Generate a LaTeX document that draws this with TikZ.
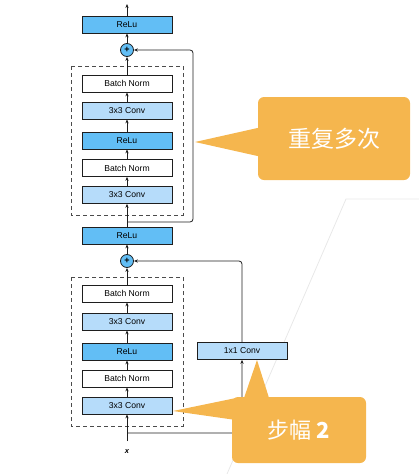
\documentclass[tikz,border=0pt]{standalone}
\usepackage{fontspec}
\setmainfont{Liberation Sans}
\newfontfamily\cjk{Noto Sans CJK SC}
\usetikzlibrary{arrows.meta}
\definecolor{reluc}{RGB}{98,190,245}
\definecolor{convc}{RGB}{182,220,250}
\definecolor{calloutc}{RGB}{245,182,78}
\definecolor{linec}{RGB}{30,30,30}
\definecolor{faintc}{RGB}{232,232,232}
\tikzset{
  blk/.style={draw=linec, line width=0.7pt, minimum width=90pt, minimum height=17pt, inner sep=0pt, font=\fontsize{8.6}{9}\selectfont, anchor=center},
  relubox/.style={blk, fill=reluc},
  convbox/.style={blk, fill=convc},
  bnbox/.style={blk, fill=white},
  plusnode/.style={circle, draw=linec, line width=0.8pt, fill=reluc, minimum size=13pt, inner sep=0pt, font=\fontsize{9}{9}\selectfont\bfseries},
  grp/.style={draw=linec!80, dashed, dash pattern=on 4pt off 3pt, line width=0.9pt},
  conn/.style={draw=linec, line width=0.8pt, -{Stealth[length=4pt,width=3.2pt]}},
  plain/.style={draw=linec, line width=0.8pt},
  callout/.style={fill=calloutc, draw=none},
  calltext/.style={text=white, font=\cjk\fontsize{23}{26}\selectfont}
}
\begin{document}
\begin{tikzpicture}[x=1pt,y=-1pt]
\useasboundingbox (0,0) rectangle (419,474);
% faint background lines
\draw[faintc, line width=0.8pt] (419,199) -- (346,199) -- (227,474);

% dashed groups
\draw[grp] (71,66) rectangle (183,215);
\draw[grp] (71,277) rectangle (183,426);

% upper block
\node[relubox] (relu3) at (127,24.5) {ReLu};
\coordinate (top) at (127,4);
\node[plusnode] (plus2) at (127,50) {+};
\node[bnbox] (bn4) at (127,83.5) {Batch Norm};
\node[convbox] (conv4) at (127,110.5) {3x3 Conv};
\node[relubox] (relu2b) at (127,140.5) {ReLu};
\node[bnbox] (bn3) at (127,168) {Batch Norm};
\node[convbox] (conv3) at (127,195) {3x3 Conv};

% middle relu
\node[relubox] (relu2) at (127,235.5) {ReLu};

% lower block
\node[plusnode] (plus1) at (127,261) {+};
\node[bnbox] (bn2) at (127,293.5) {Batch Norm};
\node[convbox] (conv2) at (127,321.5) {3x3 Conv};
\node[relubox] (relu1) at (127,351.5) {ReLu};
\node[bnbox] (bn1) at (127,378.5) {Batch Norm};
\node[convbox] (conv1) at (127,405.5) {3x3 Conv};
\node[convbox] (conv11) at (242,351) {1x1 Conv};
\node[font=\fontsize{7.5}{8}\selectfont\bfseries\itshape] (x) at (127,452) {x};
\coordinate (xs) at (127,441);
\coordinate (split1) at (127,433);
\coordinate (split2) at (127,222);

% connectors, upper
\draw[conn] (relu3.north) -- (top);
\draw[conn] (plus2.north) -- (relu3.south);
\draw[conn] (bn4.north) -- (plus2.south);
\draw[conn] (conv4.north) -- (bn4.south);
\draw[conn] (relu2b.north) -- (conv4.south);
\draw[conn] (bn3.north) -- (relu2b.south);
\draw[conn] (conv3.north) -- (bn3.south);
\draw[conn] (relu2.north) -- (conv3.south);
\draw[conn, rounded corners=3pt] (split2) -- (193,222) -- (193,50) -- (plus2.east);

% connectors, lower
\draw[conn] (plus1.north) -- (relu2.south);
\draw[conn] (bn2.north) -- (plus1.south);
\draw[conn] (conv2.north) -- (bn2.south);
\draw[conn] (relu1.north) -- (conv2.south);
\draw[conn] (bn1.north) -- (relu1.south);
\draw[conn] (conv1.north) -- (bn1.south);
\draw[conn] (xs) -- (conv1.south);
\draw[conn, rounded corners=3pt] (split1) -- (242,433) -- (conv11.south);
\draw[conn, rounded corners=3pt] (conv11.north) -- (242,261) -- (plus1.east);

% callout 1
\fill[callout, rounded corners=6pt] (258,97) rectangle (410,180);
\fill[callout] (195,142) -- (262,127) -- (262,157) -- cycle;
\node[calltext] (t1) at (334,139) {重复多次};

% callout 2
\fill[callout, rounded corners=6pt] (232,397) rectangle (366,463);
\fill[callout] (173,411) -- (236,398) -- (236,420) -- cycle;
\fill[callout] (257,360) -- (243,401) -- (270,401) -- cycle;
\node[calltext, font=\cjk\fontsize{22}{26}\selectfont] (t2) at (299,430) {步幅 \textbf{2}};
\end{tikzpicture}
\end{document}
